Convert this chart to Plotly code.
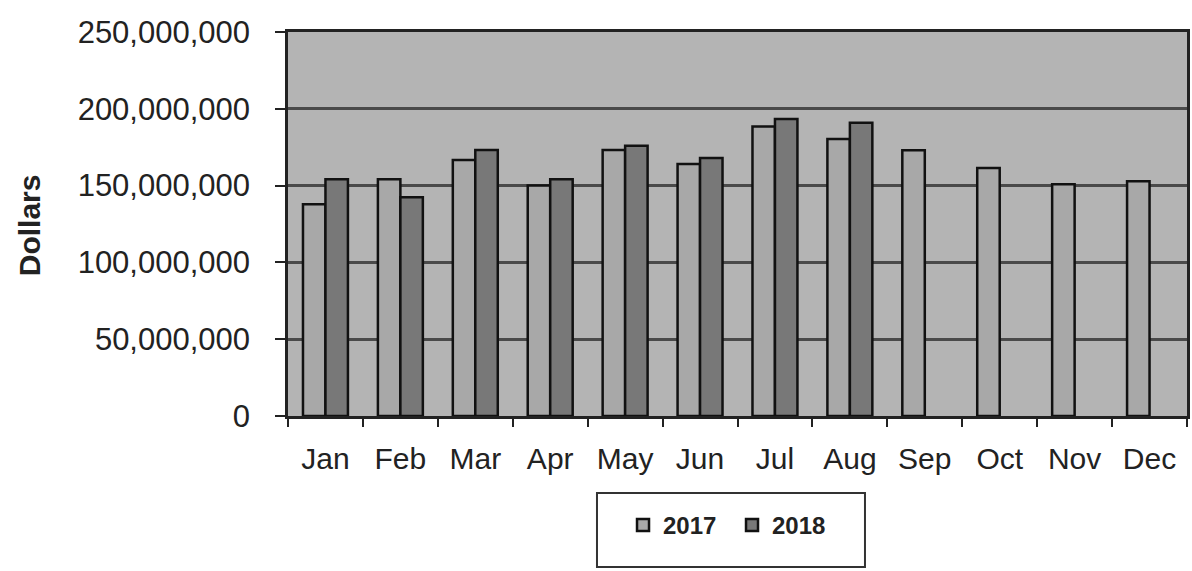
import plotly.graph_objects as go

months = ["Jan", "Feb", "Mar", "Apr", "May", "Jun", "Jul", "Aug", "Sep", "Oct", "Nov", "Dec"]
sales_2017 = [137.8e6, 154.1e6, 166.7e6, 150.0e6, 173.2e6, 164.0e6, 188.4e6, 180.3e6, 173.0e6, 161.5e6, 150.8e6, 152.9e6]
sales_2018 = [154.1e6, 142.4e6, 173.2e6, 154.1e6, 176.0e6, 168.0e6, 193.4e6, 190.9e6]
y_ticks = [0, 50e6, 100e6, 150e6, 200e6, 250e6]
y_tick_labels = ["0", "50,000,000", "100,000,000", "150,000,000", "200,000,000", "250,000,000"]

fig = go.Figure()
fig.add_trace(go.Bar(x=months, y=sales_2017, name="2017",
                     marker=dict(color="#a8a8a8", line=dict(color="#111111", width=2.5))))
fig.add_trace(go.Bar(x=months[:len(sales_2018)], y=sales_2018, name="2018",
                     marker=dict(color="#787878", line=dict(color="#111111", width=2.5))))

fig.update_layout(
    width=1192, height=571,
    margin=dict(l=288, r=5, t=32, b=155, autoexpand=False),
    paper_bgcolor="white",
    plot_bgcolor="#b4b4b4",
    barmode="group",
    bargap=0.4,
    bargroupgap=0.0,
    font=dict(family="Liberation Sans, Arial, sans-serif", color="#222222"),
    showlegend=True,
    legend=dict(orientation="h", x=0.4939, xanchor="center", y=-0.285, yanchor="middle",
                font=dict(size=24, color="#222222", weight="bold"), bgcolor="rgba(0,0,0,0)",
                itemwidth=30, entrywidth=64, traceorder="normal"),
    shapes=[dict(type="rect", xref="paper", yref="paper", x0=0.3437, x1=0.6418, y0=-0.393, y1=-0.2005,
                 line=dict(color="#333333", width=2), fillcolor="rgba(0,0,0,0)")],
    annotations=[dict(text="<b>Dollars</b>", textangle=-90, xref="paper", yref="paper",
                      x=-0.288, y=0.497, xanchor="center", yanchor="middle", showarrow=False,
                      font=dict(size=30, color="#222222"))],
)

fig.update_xaxes(
    type="category",
    tickfont=dict(size=30),
    ticks="outside", ticklen=8, tickcolor="#222222", tickwidth=2,
    tickson="boundaries",
    ticklabelstandoff=14,
    showline=True, linecolor="#222222", linewidth=2.5, mirror=True,
    showgrid=False,
)
fig.update_yaxes(
    range=[0, 250e6],
    tickvals=y_ticks, ticktext=y_tick_labels,
    tickfont=dict(size=31),
    ticks="outside", ticklen=10, tickcolor="#222222", tickwidth=2,
    ticklabelstandoff=19,
    showline=True, linecolor="#222222", linewidth=2.5, mirror=True,
    showgrid=True, gridcolor="#4a4a4a", gridwidth=2.5,
    zeroline=False,
)

fig.write_html("out.html", config={"displayModeBar": False},
               post_script="document.body.style.margin='0';")
